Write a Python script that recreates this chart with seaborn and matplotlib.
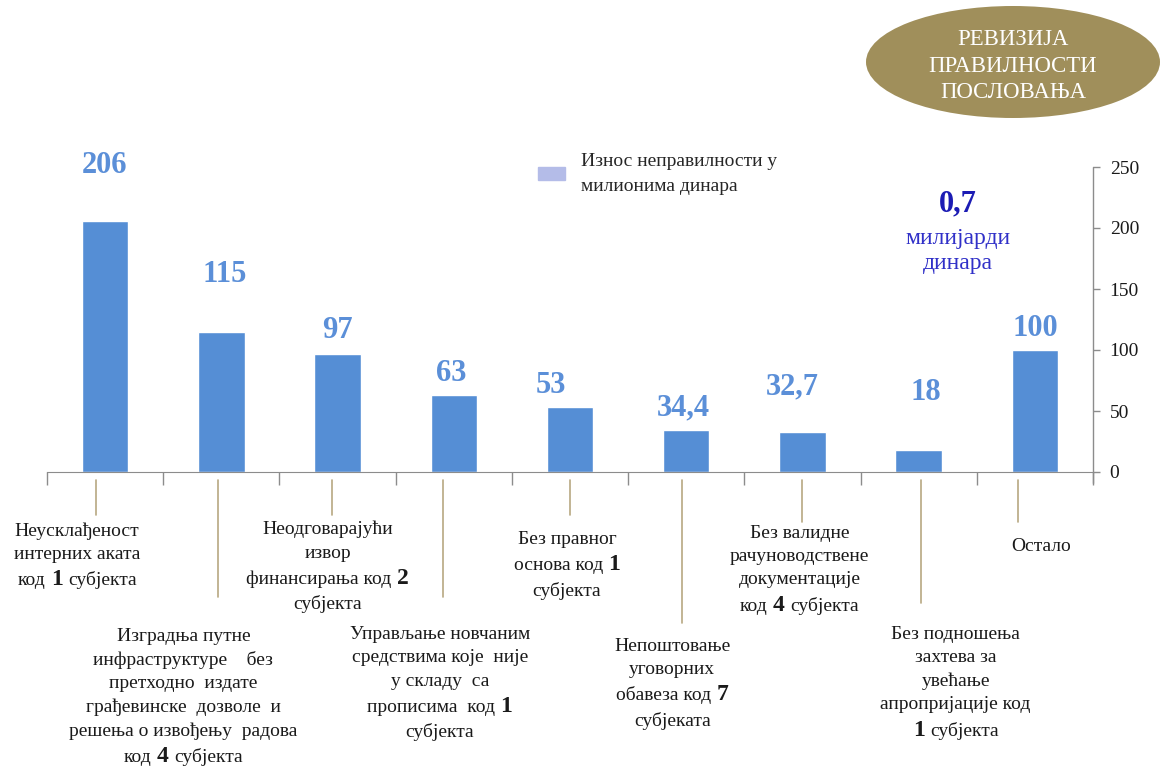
import matplotlib
matplotlib.use("Agg")
import pandas as pd
import matplotlib.pyplot as plt
import matplotlib.transforms as mtransforms
import seaborn as sns
from matplotlib.patches import Ellipse, Patch
from matplotlib.offsetbox import TextArea, HPacker, VPacker, AnnotationBbox

# ---- data -------------------------------------------------------------
categories = [
    "Неусклађеност\nинтерних аката\nкод  **1** субјекта",
    "Изградња путне\nинфраструктуре    без\nпретходно  издате\nграђевинске  дозволе  и\nрешења о извођењу  радова\nкод **4** субјекта",
    "Неодговарајући\nизвор\nфинансирања код **2**\nсубјекта",
    "Управљање новчаним\nсредствима које  није\nу складу  са\nпрописима  код **1**\nсубјекта",
    "Без правног\nоснова код **1**\nсубјекта",
    "Непоштовање\nуговорних\nобавеза код **7**\nсубјеката",
    "Без валидне\nрачуноводствене\nдокументације\nкод **4** субјекта",
    "Без подношења\nзахтева за\nувећање\nапропријације код\n**1** субјекта",
    "Остало",
]
values = [206, 115, 97, 63, 53, 34.4, 32.7, 18, 100]
value_labels = ["206", "115", "97", "63", "53", "34,4", "32,7", "18", "100"]
y_ticks = [0, 50, 100, 150, 200, 250]
legend_label = "Износ неправилности у\nмилионима динара"
badge_text = "РЕВИЗИЈА\nПРАВИЛНОСТИ\nПОСЛОВАЊА"
total_value = "0,7"
total_unit = "милијарди\nдинара"

# ---- layout (pixel offsets) -----------------------------------------------
val_dx = [-1, 3.5, 0, -2.5, -19.5, -2.5, -10.5, 7.5, 0]
val_dy = [55, 57, 23, 22, 22, 22, 45, 58, 21]
lab_dx = [-28, -38, -10, -14, -3, -14, -3, 37, 6]
lab_top = [522, 628, 521, 626, 531, 638, 525, 626, 538]
lead_dx = [-9, -3.5, -5.5, -10.5, 0, -4.5, 0, 2.5, -16.5]
lead_end = [515, 597, 515, 597, 515, 623, 522, 603, 522]

BAR = "#558ed5"
VAL = "#5b8fd8"
LEAD = "#b8a882"
GREY = "#8c8c8c"
TXT = "#1a1a1a"

sns.set_style("white")
plt.rcParams["font.family"] = ["Liberation Serif", "DejaVu Serif"]

W, H = 1160, 769
fig = plt.figure(figsize=(W / 100, H / 100), dpi=100)
X0, X1, Y0, Y1 = 47, 1093, 472, 167
ax = fig.add_axes([X0 / W, 1 - Y0 / H, (X1 - X0) / W, (Y0 - Y1) / H])

df = pd.DataFrame({"cat": categories, "val": values})
sns.barplot(data=df, x="cat", y="val", color=BAR, saturation=1, width=0.4, ax=ax)

ax.set_ylim(0, 250)
ax.set_xlim(-0.5, len(values) - 0.5)
ax.set_xlabel("")
ax.set_ylabel("")

# axes styling
ax.yaxis.tick_right()
ax.set_yticks(y_ticks)
ax.set_yticklabels([str(t) for t in y_ticks])
ax.tick_params(axis="y", right=True, left=False, length=5, width=1, color=GREY,
               pad=7, labelsize=14, labelcolor=TXT)
ax.set_xticks(range(len(values)))
ax.set_xticklabels([])
ax.tick_params(axis="x", which="major", length=0)
ax.set_xticks([i - 0.5 for i in range(len(values) + 1)], minor=True)
ax.tick_params(axis="x", which="minor", bottom=True, length=9, width=1, color=GREY)
for s in ["left", "top", "right"]:
    ax.spines[s].set_visible(False)
ax.spines["bottom"].set_color(GREY)
ax.plot([1, 1], [-0.036, 1], transform=ax.transAxes, color=GREY, lw=1, clip_on=False)

PX = 250 / (Y0 - Y1)  # data units per pixel


def shifted(dx_px):
    return ax.transData + mtransforms.ScaledTranslation(dx_px / 100, 0, fig.dpi_scale_trans)


# value labels above bars
for i, (v, lab) in enumerate(zip(values, value_labels)):
    ax.annotate(lab, xy=(i, v), xytext=(val_dx[i] * 0.72, val_dy[i] * 0.72),
                textcoords="offset points", ha="center", va="center",
                fontsize=22, fontweight="bold", color=VAL)

# leader lines
for i in range(len(values)):
    ax.plot([i, i], [-(480 - Y0) * PX, -(lead_end[i] - Y0) * PX],
            transform=shifted(lead_dx[i]), color=LEAD, lw=1.2, clip_on=False)


# category labels with bold counts
def line_box(line):
    parts = line.split("**")
    kids = []
    for k, p in enumerate(parts):
        p = p.strip()
        if not p:
            continue
        if k % 2:
            kids.append(TextArea(p, textprops=dict(fontsize=17, fontweight="bold", color=TXT)))
        else:
            kids.append(TextArea(p, textprops=dict(fontsize=14, color=TXT)))
    return HPacker(children=kids, align="baseline", pad=0, sep=4)


for i, cat in enumerate(categories):
    box = VPacker(children=[line_box(l) for l in cat.split("\n")],
                  align="center", pad=0, sep=4.5)
    ab = AnnotationBbox(box, xy=(i, 0), xycoords="data",
                        xybox=(lab_dx[i] * 0.72, -(lab_top[i] - Y0) * 0.72),
                        boxcoords="offset points", box_alignment=(0.5, 1),
                        frameon=False, annotation_clip=False)
    ax.add_artist(ab)

# legend
leg = ax.legend(handles=[Patch(color="#b4bce8", label=legend_label)], loc="upper left",
                bbox_to_anchor=((538 - X0) / (X1 - X0), (Y0 - 153) / (Y0 - Y1)),
                frameon=False, fontsize=14, borderpad=0, borderaxespad=0,
                handlelength=1.4, handleheight=0.6, handletextpad=0.8)
for t in leg.get_texts():
    t.set_linespacing(1.6)

# total annotation
ax.text((958 - X0) / (X1 - X0), (Y0 - 204) / (Y0 - Y1), total_value,
        transform=ax.transAxes, ha="center", va="center",
        fontsize=22, fontweight="bold", color="#1c1cb4")
ax.text((958 - X0) / (X1 - X0), (Y0 - 251) / (Y0 - Y1), total_unit,
        transform=ax.transAxes, ha="center", va="center",
        fontsize=17, color="#3030c8", linespacing=1.25)

# badge
fig.add_artist(Ellipse((1013 / W, 1 - 62 / H), 294 / W, 112 / H,
                       transform=fig.transFigure, facecolor="#a08f5b", edgecolor="none"))
fig.text(1013 / W, 1 - 66 / H, badge_text, ha="center", va="center",
         fontsize=16.4, color="white", linespacing=1.35)

fig.savefig("out.png", dpi=100)
